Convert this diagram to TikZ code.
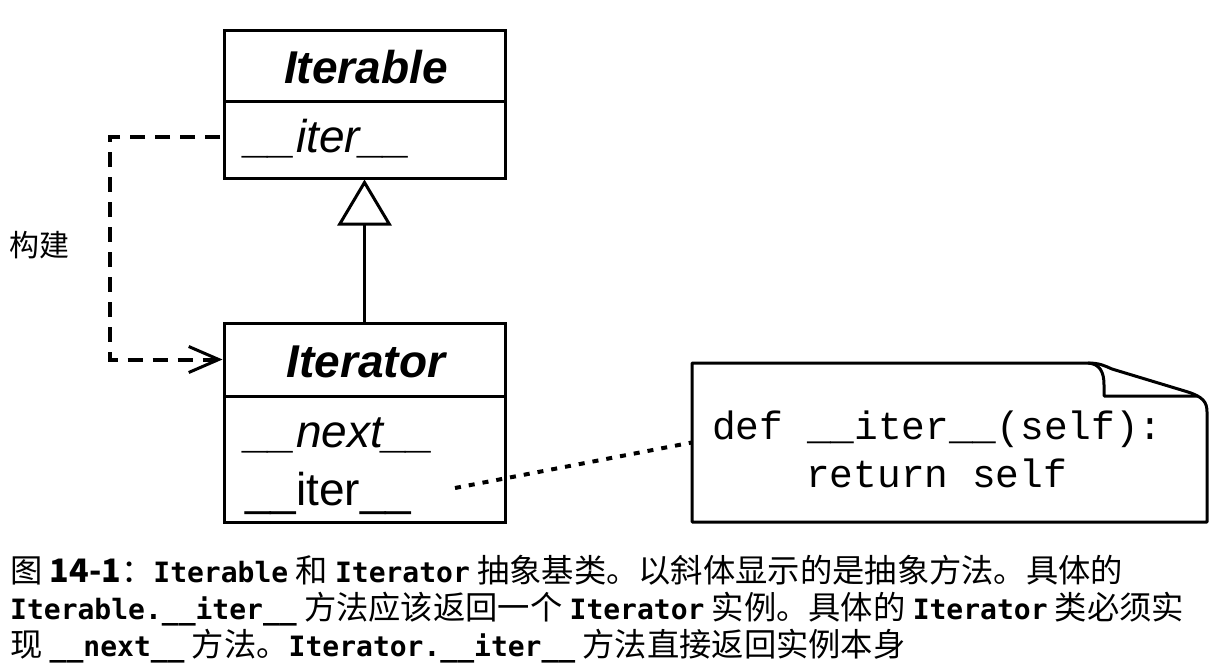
\documentclass[tikz,border=0pt]{standalone}
\usepackage{fontspec}
\setmainfont{Liberation Sans}
\setmonofont{Liberation Mono}
\newfontfamily\cjk{Noto Sans CJK SC}
\newfontfamily\capmono{DejaVu Sans Mono}
\usetikzlibrary{arrows.meta}
\newcommand{\cm}[1]{{\capmono\bfseries\fontsize{28}{30}\selectfont #1}}
\tikzset{
  classbox/.style={draw, line width=3pt, minimum width=281pt, inner sep=0pt},
  titletext/.style={anchor=base, font=\fontsize{46}{50}\selectfont\bfseries\itshape, inner sep=0pt},
  methtext/.style={anchor=base west, font=\fontsize{46}{50}\selectfont, inner sep=0pt},
  codetext/.style={anchor=base west, font=\ttfamily\fontsize{39.5}{44}\selectfont, inner sep=0pt},
  captext/.style={anchor=base west, font=\cjk\fontsize{32.3}{34}\selectfont, inner sep=0pt},
  depline/.style={line width=4pt, dash pattern=on 15pt off 10pt},
  noteline/.style={line width=4pt, dash pattern=on 6pt off 8pt},
}
\begin{document}
\begin{tikzpicture}[x=1pt,y=-1pt]
\useasboundingbox (0,0) rectangle (1217,667);

% Iterable class
\node[classbox, minimum height=71pt] (itbltitle) at (364.5,65.5) {};
\node[classbox, minimum height=77pt] (itblmeth) at (364.5,139.5) {};
\node[titletext] (itblname) at (366,83) {Iterable};
\node[methtext, font=\fontsize{46}{50}\selectfont\itshape] (itbliter) at (245,152) {\_\_iter\_\_};

% Iterator class
\node[classbox, minimum height=73pt] (itortitle) at (364.5,359.5) {};
\node[classbox, minimum height=126pt] (itormeth) at (364.5,459) {};
\node[titletext] (itorname) at (366,377) {Iterator};
\node[methtext, font=\fontsize{46}{50}\selectfont\itshape] (itornext) at (245,447) {\_\_next\_\_};
\node[methtext] (itoriter) at (245,505) {\_\_iter\_\_};

% inheritance
\draw[line width=3pt, -{Triangle[open, length=46pt, width=54pt, line width=3pt]}] (itortitle.north) -- (itblmeth.south);

% dependency (build)
\coordinate (depstart) at (220,137);
\draw[depline, -{Straight Barb[length=30pt, width=26pt, line width=3pt]}] (depstart) -- (110,137) |- (itortitle.west);
\node[anchor=base west, font=\cjk\fontsize{30}{32}\selectfont, inner sep=0pt] (build) at (9,256) {构建};

% note
\node[minimum width=515pt, minimum height=159pt, inner sep=0pt] (note) at (949.5,442.5) {};
\draw[line width=3pt, line join=round]
  (692,363) -- (1088,363) .. controls (1100,363) and (1105,366) .. (1112,369)
  -- (1188,392) .. controls (1203,397) and (1207,402) .. (1207,412)
  -- (1207,522) -- (692,522) -- cycle;
\draw[line width=3pt, line join=round]
  (1088,363) .. controls (1100,364) and (1104,372) .. (1104,385) -- (1104,396) -- (1198,396);
\node[codetext] (code1) at (712,439) {def \_\_iter\_\_(self):};
\node[codetext] (code2) at (806,487) {return self};

% dotted connector
\coordinate (dotstart) at (455,488);
\draw[noteline] (dotstart) -- (note.west);

% caption
\node[captext] (cap1) at (10,582) {图 {\bfseries 14-1}：\cm{Iterable} 和 \cm{Iterator} 抽象基类。以斜体显示的是抽象方法。具体的};
\node[captext] (cap2) at (10,619) {\cm{Iterable.\_\_iter\_\_} 方法应该返回一个 \cm{Iterator} 实例。具体的 \cm{Iterator} 类必须实};
\node[captext] (cap3) at (10,656) {现 \cm{\_\_next\_\_} 方法。\cm{Iterator.\_\_iter\_\_} 方法直接返回实例本身};
\end{tikzpicture}
\end{document}
